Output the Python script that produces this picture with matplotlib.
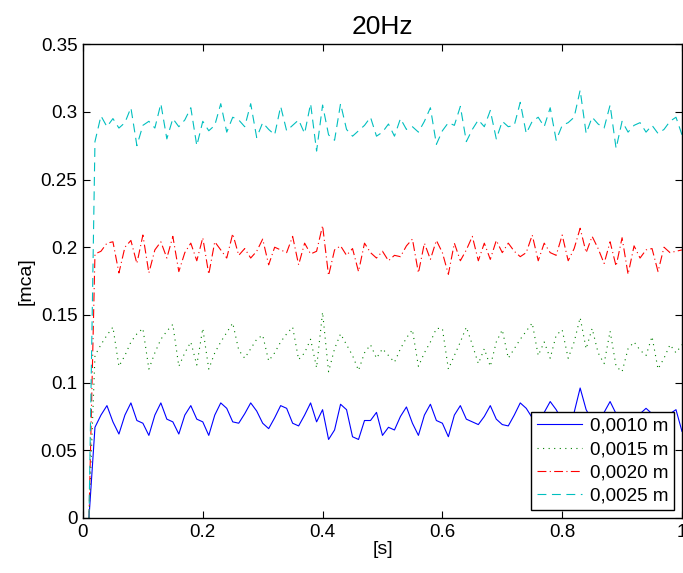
import numpy as np
import matplotlib.pyplot as plt
from matplotlib.ticker import FormatStrFormatter

plt.rcParams['font.family'] = ['Liberation Sans', 'DejaVu Sans']

# time axis [s], one sample every 0.01 s
t = np.arange(1, 101) * 0.01

labels = ['0,0010 m', '0,0015 m', '0,0020 m', '0,0025 m']

h_0010 = [0.0,
    0.067, 0.076, 0.083, 0.071, 0.062, 0.076, 0.085, 0.072, 0.070, 0.061,
    0.076, 0.085, 0.073, 0.071, 0.062, 0.076, 0.083, 0.073, 0.071, 0.061,
    0.076, 0.085, 0.081, 0.071, 0.070, 0.077, 0.085, 0.079, 0.070, 0.066,
    0.074, 0.083, 0.081, 0.070, 0.068, 0.076, 0.085, 0.071, 0.080, 0.058,
    0.065, 0.084, 0.080, 0.060, 0.058, 0.072, 0.072, 0.078, 0.061, 0.067,
    0.065, 0.075, 0.082, 0.070, 0.061, 0.076, 0.084, 0.072, 0.070, 0.060,
    0.076, 0.083, 0.073, 0.071, 0.069, 0.075, 0.083, 0.073, 0.069, 0.068,
    0.076, 0.085, 0.081, 0.074, 0.072, 0.078, 0.086, 0.080, 0.072, 0.075,
    0.078, 0.096, 0.080, 0.072, 0.074, 0.078, 0.086, 0.077, 0.071, 0.072,
    0.073, 0.077, 0.081, 0.077, 0.071, 0.073, 0.077, 0.080, 0.064]

h_0015 = [0.0,
    0.120, 0.128, 0.135, 0.141, 0.112, 0.120, 0.130, 0.136, 0.140, 0.110,
    0.122, 0.132, 0.138, 0.143, 0.112, 0.122, 0.130, 0.113, 0.140, 0.110,
    0.122, 0.130, 0.137, 0.144, 0.124, 0.118, 0.125, 0.132, 0.135, 0.116,
    0.122, 0.130, 0.136, 0.141, 0.117, 0.122, 0.132, 0.111, 0.152, 0.108,
    0.125, 0.136, 0.128, 0.120, 0.109, 0.122, 0.128, 0.118, 0.125, 0.120,
    0.115, 0.125, 0.133, 0.139, 0.112, 0.122, 0.130, 0.140, 0.140, 0.110,
    0.120, 0.130, 0.141, 0.128, 0.114, 0.125, 0.112, 0.130, 0.139, 0.118,
    0.125, 0.132, 0.138, 0.144, 0.120, 0.130, 0.118, 0.135, 0.139, 0.118,
    0.130, 0.148, 0.125, 0.140, 0.122, 0.114, 0.138, 0.112, 0.108, 0.125,
    0.130, 0.124, 0.120, 0.134, 0.110, 0.118, 0.128, 0.122, 0.128]

h_0020 = [0.0,
    0.195, 0.197, 0.203, 0.204, 0.181, 0.200, 0.205, 0.188, 0.209, 0.181,
    0.198, 0.204, 0.192, 0.208, 0.182, 0.196, 0.203, 0.190, 0.207, 0.180,
    0.204, 0.198, 0.192, 0.210, 0.194, 0.199, 0.192, 0.197, 0.206, 0.187,
    0.200, 0.198, 0.196, 0.208, 0.187, 0.203, 0.195, 0.197, 0.216, 0.179,
    0.198, 0.201, 0.194, 0.199, 0.182, 0.203, 0.196, 0.192, 0.197, 0.190,
    0.194, 0.193, 0.201, 0.206, 0.181, 0.203, 0.191, 0.205, 0.196, 0.180,
    0.203, 0.190, 0.198, 0.208, 0.190, 0.203, 0.191, 0.205, 0.196, 0.203,
    0.197, 0.193, 0.196, 0.209, 0.190, 0.203, 0.196, 0.194, 0.209, 0.190,
    0.199, 0.214, 0.196, 0.208, 0.199, 0.188, 0.204, 0.186, 0.207, 0.180,
    0.201, 0.192, 0.198, 0.199, 0.182, 0.200, 0.196, 0.197, 0.198]

h_0025 = [0.0,
    0.278, 0.297, 0.289, 0.295, 0.288, 0.292, 0.303, 0.275, 0.290, 0.293,
    0.288, 0.306, 0.280, 0.295, 0.289, 0.294, 0.303, 0.275, 0.293, 0.286,
    0.290, 0.306, 0.285, 0.296, 0.294, 0.289, 0.306, 0.281, 0.292, 0.287,
    0.283, 0.304, 0.286, 0.290, 0.294, 0.284, 0.306, 0.271, 0.305, 0.283,
    0.279, 0.306, 0.287, 0.282, 0.286, 0.290, 0.296, 0.282, 0.285, 0.291,
    0.282, 0.295, 0.287, 0.289, 0.285, 0.293, 0.303, 0.276, 0.286, 0.292,
    0.290, 0.304, 0.278, 0.287, 0.294, 0.289, 0.301, 0.280, 0.293, 0.289,
    0.290, 0.307, 0.284, 0.293, 0.296, 0.289, 0.303, 0.279, 0.290, 0.292,
    0.296, 0.316, 0.284, 0.296, 0.291, 0.288, 0.305, 0.273, 0.293, 0.285,
    0.290, 0.292, 0.285, 0.290, 0.284, 0.287, 0.293, 0.296, 0.283]

fig = plt.figure(figsize=(6.83, 5.73), dpi=100)
ax = fig.add_axes([0.1215, 0.096, 0.877, 0.827])

ax.plot(t, h_0010, color=(0, 0, 1), lw=0.8, ls='-', label=labels[0])
ax.plot(t, h_0015, color=(0, 0.5, 0), lw=0.8, ls=(0, (1, 4)), label=labels[1])
ax.plot(t, h_0020, color=(1, 0, 0), lw=0.8, ls=(0, (8, 3, 1, 3)), label=labels[2])
ax.plot(t, h_0025, color=(0, 0.75, 0.75), lw=0.8, ls=(0, (8, 5)), label=labels[3])

ax.set_xlim(0, 1)
ax.set_ylim(0, 0.35)
ax.set_xticks(np.arange(0, 1.01, 0.2))
ax.set_yticks(np.arange(0, 0.351, 0.05))
ax.xaxis.set_major_formatter(FormatStrFormatter('%g'))
ax.yaxis.set_major_formatter(FormatStrFormatter('%g'))
ax.tick_params(direction='in', length=5, width=0.8, top=True, right=True, labelsize=13.5, pad=4)
for s in ax.spines.values():
    s.set_linewidth(1.0)

ax.set_xlabel('[s]', fontsize=14, labelpad=0)
ax.set_ylabel('[mca]', fontsize=14, labelpad=4)
ax.set_title('20Hz', fontsize=19, pad=7)

leg = ax.legend(loc='lower right', fontsize=13.5, frameon=True, fancybox=False,
                edgecolor='black', framealpha=1, borderpad=0.3, labelspacing=0.33,
                handlelength=2.4, handletextpad=0.45, borderaxespad=0.4)
leg.get_frame().set_linewidth(1.0)

fig.savefig('out.png', dpi=100)
